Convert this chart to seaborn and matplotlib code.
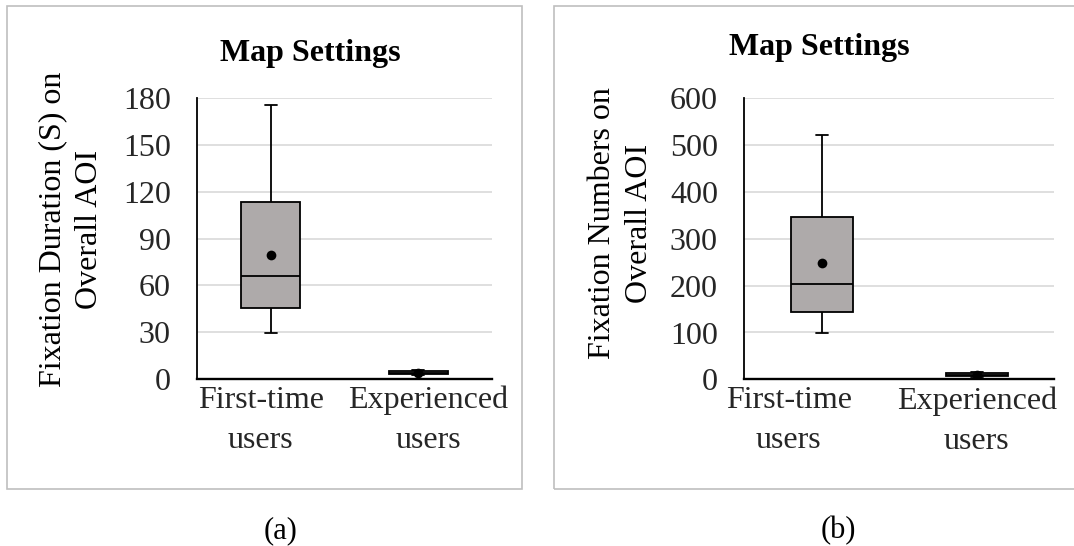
import numpy as np
import pandas as pd
import matplotlib
matplotlib.use("Agg")
import matplotlib.pyplot as plt
import seaborn as sns
from matplotlib.patches import Rectangle

# ---------------- data ----------------
groups = ["First-time users", "Experienced users"]
tick_labels = ["First-time\nusers", "Experienced\nusers"]

# five-number summaries per group: min, Q1, median, Q3, max
duration_first = [29.5, 45.5, 66.0, 113.7, 176.0]
duration_exp = [2.5, 3.0, 4.0, 5.0, 5.5]
duration_means = [79.5, 4.1]

numbers_first = [99.0, 143.5, 204.0, 347.5, 523.0]
numbers_exp = [5.0, 7.0, 10.0, 13.0, 15.0]
numbers_means = [249.0, 10.0]

duration_ticks = [0, 30, 60, 90, 120, 150, 180]
numbers_ticks = [0, 100, 200, 300, 400, 500, 600]

title_text = "Map Settings"
ylabel_a = "Fixation Duration (S) on\nOverall AOI"
ylabel_b = "Fixation Numbers on\nOverall AOI"

# ---------------- style ----------------
sns.set_theme(style="white")
plt.rcParams["font.family"] = ["Liberation Serif", "DejaVu Serif"]
plt.rcParams["text.color"] = "black"

W, H = 1074, 546
fig = plt.figure(figsize=(W / 100, H / 100), dpi=100, facecolor="white")

BOX = "#AEAAAA"
GRID = "#D9D9D9"
BORDER = "#BFBFBF"
FS = 23


def px_rect(l, t, r, b):
    return [l / W, 1 - b / H, (r - l) / W, (b - t) / H]


def fx(x):
    return x / W


def fy(y):
    return 1 - y / H


# panel borders
fig.add_artist(Rectangle((fx(7), fy(488.5)), fx(521.7) - fx(7), fy(6.5) - fy(488.5),
                         transform=fig.transFigure, fill=False, edgecolor=BORDER, lw=1.2))
fig.add_artist(Rectangle((fx(554.3), fy(488.5)), fx(1090) - fx(554.3), fy(6.5) - fy(488.5),
                         transform=fig.transFigure, fill=False, edgecolor=BORDER, lw=1.2,
                         clip_on=False))


def panel(rect, first, exp, means, ticks, offsets):
    ax = fig.add_axes(rect)
    df = pd.DataFrame({
        "group": [groups[0]] * len(first) + [groups[1]] * len(exp),
        "value": first + exp,
    })
    sns.boxplot(data=df, x="group", y="value", order=groups, width=0.4,
                whis=(0, 100), color=BOX, saturation=1, linecolor="black",
                linewidth=1.3, showfliers=False, capwidths=0.08, ax=ax)
    sns.stripplot(x=groups, y=means, order=groups, jitter=False, color="black",
                  size=7, ax=ax, zorder=5)
    ax.set_xlim(-0.5, 1.5)
    ax.set_ylim(0, ticks[-1])
    ax.set_yticks(ticks)
    ax.set_yticklabels([str(t) for t in ticks], fontsize=FS)
    ax.set_xticks([0 + offsets[0], 1 + offsets[1]])
    ax.set_xticklabels(tick_labels, fontsize=FS, linespacing=1.5)
    ax.set_xlabel("")
    ax.set_ylabel("")
    ax.yaxis.grid(True, color=GRID, lw=1.2)
    ax.xaxis.grid(False)
    ax.set_axisbelow(True)
    for s in ["top", "right"]:
        ax.spines[s].set_visible(False)
    ax.spines["left"].set_color("black")
    ax.spines["left"].set_linewidth(1.3)
    ax.spines["bottom"].set_color("black")
    ax.spines["bottom"].set_linewidth(1.7)
    ax.tick_params(axis="y", length=0, pad=19.0)
    ax.tick_params(axis="x", length=0, pad=5.0)
    ax.set_facecolor("none")
    return ax


ax_a = panel(px_rect(197.3, 98.3, 491.7, 379.0), duration_first, duration_exp,
             duration_means, duration_ticks, (-0.068, 0.068))
ax_b = panel(px_rect(744.3, 98.5, 1054.3, 379.3), numbers_first, numbers_exp,
             numbers_means, numbers_ticks, (-0.213, 0.0))

# titles
fig.text(fx(310), fy(54), title_text, ha="center", va="center", fontsize=FS,
         fontweight="bold")
fig.text(fx(819), fy(48), title_text, ha="center", va="center", fontsize=FS,
         fontweight="bold")

# y labels
fig.text(fx(71), fy(229), ylabel_a, rotation=90, ha="center", va="center",
         multialignment="center", fontsize=FS, linespacing=1.38)
fig.text(fx(621), fy(223), ylabel_b, rotation=90, ha="center", va="center",
         multialignment="center", fontsize=FS, linespacing=1.38)

# captions
fig.text(fx(281), fy(531), "(a)", ha="center", va="center", fontsize=22)
fig.text(fx(838), fy(531), "(b)", ha="center", va="center", fontsize=22)

fig.savefig("out.png", dpi=100, facecolor="white")
